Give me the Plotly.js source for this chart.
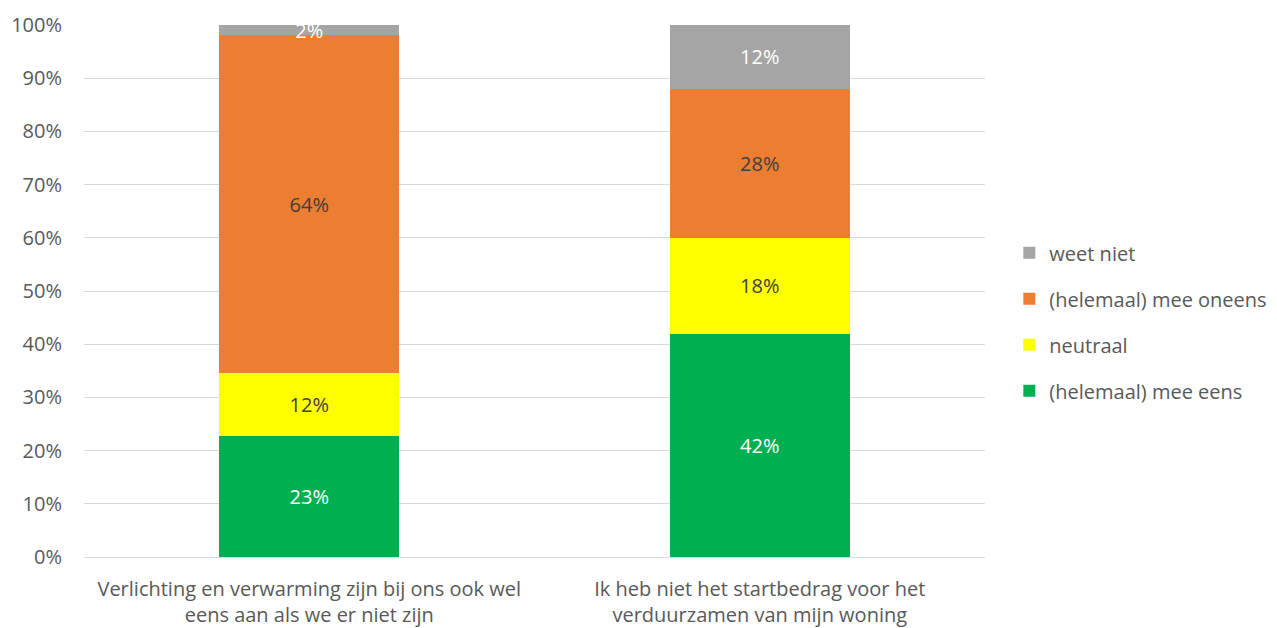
<!DOCTYPE html>
<html>
<head>
<meta charset="utf-8">
<script src="https://cdn.plot.ly/plotly-3.0.1.min.js"></script>
<style>html,body{margin:0;padding:0;background:#fff;}</style>
</head>
<body>
<div id="chart" style="width:1277px;height:628px;"></div>
<script>
var categories = [
  "Verlichting en verwarming zijn bij ons ook wel<br>eens aan als we er niet zijn",
  "Ik heb niet het startbedrag voor het<br>verduurzamen van mijn woning"
];
var seriesNames = ["(helemaal) mee eens", "neutraal", "(helemaal) mee oneens", "weet niet"];
var meeEens = [22.7, 42];
var neutraal = [11.9, 18];
var meeOneens = [63.5, 28];
var weetNiet = [1.9, 12];
var colors = ["#00B050", "#FFFF00", "#ED7D31", "#A5A5A5"];
var labelColors = ["#FFFFFF", "#404040", "#404040", "#FFFFFF"];

var allValues = [meeEens, neutraal, meeOneens, weetNiet];
var fontFam = "'Open Sans', 'Noto Sans', sans-serif";
var fs = 20;

var traces = allValues.map(function(vals, i) {
  return {
    type: "bar",
    name: seriesNames[i],
    x: categories,
    y: vals,
    width: 0.4,
    marker: {color: colors[i], line: {width: 0}},
    text: vals.map(function(v){ return Math.round(v) + "%"; }),
    textposition: "inside",
    insidetextanchor: "middle",
    constraintext: "none",
    textangle: 0,
    textfont: {family: fontFam, size: fs, color: labelColors[i]},
    hoverinfo: "none",
    legendgroup: "g" + i,
    legendrank: 10 - i
  };
});

var layout = {
  barmode: "stack",
  width: 1277,
  height: 628,
  margin: {l: 84, r: 292, t: 25, b: 71, autoexpand: false},
  paper_bgcolor: "#FFFFFF",
  plot_bgcolor: "#FFFFFF",
  font: {family: fontFam, size: fs, color: "#595959"},
  xaxis: {
    showgrid: false,
    showline: true,
    linecolor: "#D9D9D9",
    linewidth: 1,
    ticks: "",
    ticklabelstandoff: 14,
    tickfont: {family: fontFam, size: fs, color: "#595959"},
    automargin: false
  },
  yaxis: {
    range: [0, 100],
    dtick: 10,
    ticksuffix: "%",
    showgrid: true,
    gridcolor: "#D9D9D9",
    gridwidth: 1,
    zeroline: false,
    showline: false,
    ticks: "",
    ticklabelstandoff: 21,
    tickfont: {family: fontFam, size: fs, color: "#595959"},
    automargin: false
  },
  legend: {
    x: 1.027,
    xanchor: "left",
    y: 0.442,
    yanchor: "middle",
    traceorder: "grouped",
    tracegroupgap: 17,
    itemwidth: 30,
    font: {family: fontFam, size: fs, color: "#595959"}
  },
  showlegend: true
};

Plotly.newPlot("chart", traces, layout, {displayModeBar: false, staticPlot: true});
</script>
</body>
</html>
